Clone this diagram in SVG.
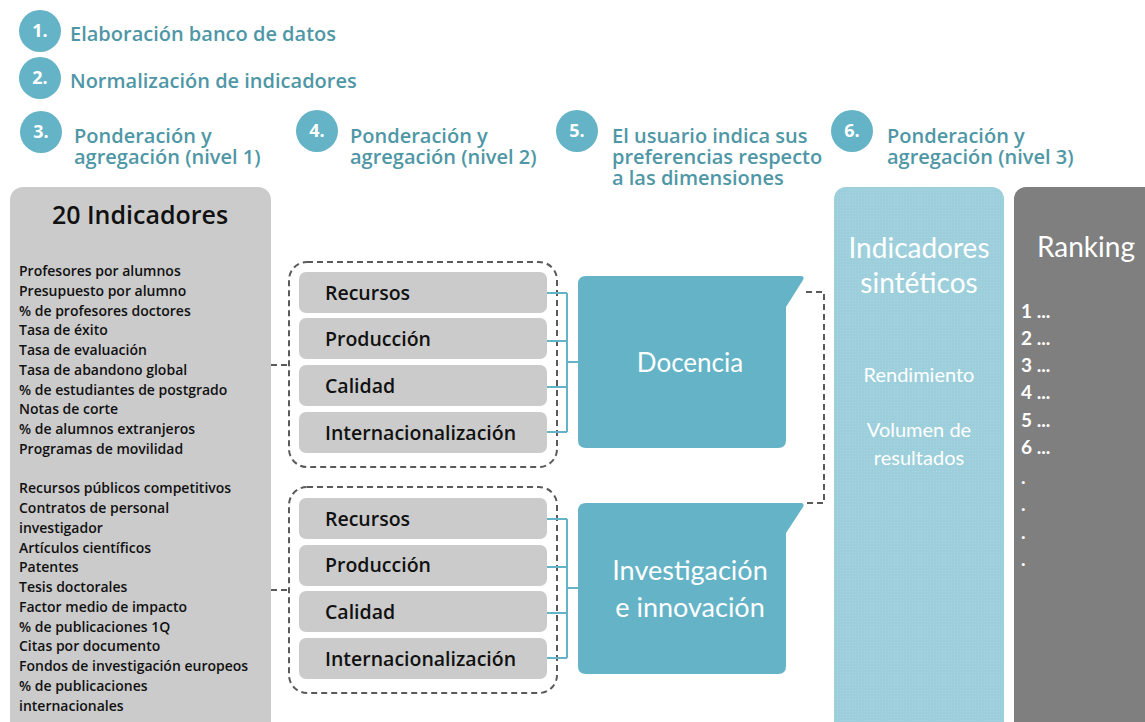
<svg xmlns="http://www.w3.org/2000/svg" width="1145" height="722" viewBox="0 0 1145 722">
<style>
.step{fill:#64b3c6}
.num{font-family:"Open Sans",Lato,sans-serif;font-weight:bold;font-size:18px;fill:#fff;text-anchor:middle}
.st{font-family:"Open Sans",Lato,sans-serif;font-weight:600;font-size:20px;fill:#4f97a6}
.list{font-family:"Open Sans",Lato,sans-serif;font-weight:600;font-size:14px;fill:#111}
.box{fill:#cbcbcb}
.boxt{font-family:"Open Sans",Lato,sans-serif;font-weight:600;font-size:19.5px;fill:#111}
.dash{fill:none;stroke:#5a5a5a;stroke-width:2;stroke-dasharray:6 4}
.teal{fill:none;stroke:#64b3c6;stroke-width:2}
.dim{fill:#64b3c6}
.wt{font-family:Lato,"Open Sans",sans-serif;fill:#fff;text-anchor:middle}
</style>
<defs>
<pattern id="tex" width="3" height="3" patternUnits="userSpaceOnUse">
<rect width="3" height="3" fill="#9ccfdb"/>
<rect width="1" height="1" fill="#a9d6e0"/>
</pattern>
</defs>
<rect width="1145" height="722" fill="#fff"/>

<g id="step1"><circle class="step" cx="40" cy="31" r="21"/><text class="num" x="40" y="37">1.</text><text class="st" x="70" y="41">Elaboración banco de datos</text></g>
<g id="step2"><circle class="step" cx="40" cy="78" r="21"/><text class="num" x="40" y="84">2.</text><text class="st" x="70" y="88">Normalización de indicadores</text></g>
<g id="step3"><circle class="step" cx="41" cy="132" r="21"/><text class="num" x="41" y="138">3.</text><text class="st" x="74" y="143">Ponderación y<tspan x="74" dy="21">agregación (nivel 1)</tspan></text></g>
<g id="step4"><circle class="step" cx="317" cy="131" r="21"/><text class="num" x="317" y="137">4.</text><text class="st" x="350" y="143">Ponderación y<tspan x="350" dy="21">agregación (nivel 2)</tspan></text></g>
<g id="step5"><circle class="step" cx="577" cy="131" r="21"/><text class="num" x="577" y="137">5.</text><text class="st" x="612" y="143">El usuario indica sus<tspan x="612" dy="21">preferencias respecto</tspan><tspan x="612" dy="21">a las dimensiones</tspan></text></g>
<g id="step6"><circle class="step" cx="852" cy="131" r="21"/><text class="num" x="852" y="137">6.</text><text class="st" x="887" y="143">Ponderación y<tspan x="887" dy="21">agregación (nivel 3)</tspan></text></g>

<g id="indicadores">
<rect x="10" y="187" width="261" height="550" rx="13" fill="#cbcbcb"/>
<text x="140" y="224" font-family="'Open Sans',Lato,sans-serif" font-weight="600" font-size="25" fill="#111" text-anchor="middle">20 Indicadores</text>
<text class="list" x="19" y="276">Profesores por alumnos</text>
<text class="list" x="19" y="296">Presupuesto por alumno</text>
<text class="list" x="19" y="316">% de profesores doctores</text>
<text class="list" x="19" y="335">Tasa de éxito</text>
<text class="list" x="19" y="355">Tasa de evaluación</text>
<text class="list" x="19" y="375">Tasa de abandono global</text>
<text class="list" x="19" y="395">% de estudiantes de postgrado</text>
<text class="list" x="19" y="414">Notas de corte</text>
<text class="list" x="19" y="434">% de alumnos extranjeros</text>
<text class="list" x="19" y="454">Programas de movilidad</text>
<text class="list" x="19" y="493">Recursos públicos competitivos</text>
<text class="list" x="19" y="513">Contratos de personal</text>
<text class="list" x="19" y="533">investigador</text>
<text class="list" x="19" y="553">Artículos científicos</text>
<text class="list" x="19" y="572">Patentes</text>
<text class="list" x="19" y="592">Tesis doctorales</text>
<text class="list" x="19" y="612">Factor medio de impacto</text>
<text class="list" x="19" y="632">% de publicaciones 1Q</text>
<text class="list" x="19" y="651">Citas por documento</text>
<text class="list" x="19" y="671">Fondos de investigación europeos</text>
<text class="list" x="19" y="691">% de publicaciones</text>
<text class="list" x="19" y="711">internacionales</text>
</g>

<g id="grupo1">
<rect class="dash" x="289" y="262" width="268" height="205" rx="18"/>
<rect class="box" x="299" y="272" width="248" height="41" rx="7"/><text class="boxt" x="325" y="300">Recursos</text>
<rect class="box" x="299" y="318" width="248" height="41" rx="7"/><text class="boxt" x="325" y="346">Producción</text>
<rect class="box" x="299" y="365" width="248" height="41" rx="7"/><text class="boxt" x="325" y="393">Calidad</text>
<rect class="box" x="299" y="412" width="248" height="41" rx="7"/><text class="boxt" x="325" y="440">Internacionalización</text>
</g>
<g id="grupo2">
<rect class="dash" x="289" y="487" width="268" height="206" rx="18"/>
<rect class="box" x="299" y="498" width="248" height="41" rx="7"/><text class="boxt" x="325" y="526">Recursos</text>
<rect class="box" x="299" y="545" width="248" height="41" rx="7"/><text class="boxt" x="325" y="572">Producción</text>
<rect class="box" x="299" y="591" width="248" height="41" rx="7"/><text class="boxt" x="325" y="619">Calidad</text>
<rect class="box" x="299" y="638" width="248" height="41" rx="7"/><text class="boxt" x="325" y="666">Internacionalización</text>
</g>

<g id="docencia">
<path class="dim" d="M586,276 H801 Q805,276 803,280 L786,307 V440 Q786,448 778,448 H586 Q578,448 578,440 V284 Q578,276 586,276 Z"/>
<text class="wt" x="690" y="372" font-size="26">Docencia</text>
</g>
<g id="investigacion">
<path class="dim" d="M586,503 H801 Q805,503 803,507 L786,533 V666 Q786,674 778,674 H586 Q578,674 578,666 V511 Q578,503 586,503 Z"/>
<text class="wt" x="690" y="580" font-size="27">Investigación<tspan x="690" dy="37">e innovación</tspan></text>
</g>

<g id="sinteticos">
<rect x="834" y="187" width="170" height="560" rx="12" fill="url(#tex)"/>
<text class="wt" x="919" y="258" font-size="28">Indicadores<tspan x="919" dy="35">sintéticos</tspan></text>
<text class="wt" x="919" y="382" font-size="20">Rendimiento</text>
<text class="wt" x="919" y="437" font-size="20">Volumen de<tspan x="919" dy="28">resultados</tspan></text>
</g>
<g id="ranking">
<rect x="1014" y="187" width="150" height="560" rx="12" fill="#7f7f7f"/>
<text class="wt" x="1086" y="257" font-size="28">Ranking</text>
<g font-family="Lato,'Open Sans',sans-serif" font-weight="bold" font-size="19" fill="#fff">
<text x="1021" y="318">1 ...</text>
<text x="1021" y="345">2 ...</text>
<text x="1021" y="372">3 ...</text>
<text x="1021" y="399">4 ...</text>
<text x="1021" y="427">5 ...</text>
<text x="1021" y="454">6 ...</text>
<text x="1021" y="484">.</text>
<text x="1021" y="511">.</text>
<text x="1021" y="539">.</text>
<text x="1021" y="566">.</text>
</g>
</g>

<g id="connectors">
<path class="dash" d="M271,365 H289"/>
<path class="dash" d="M271,590 H289"/>
<path class="teal" d="M547,293 H567 M547,341 H567 M547,387 H567 M547,432 H567 M567,293 V432 M567,362 H578"/>
<path class="teal" d="M547,519 H567 M547,567 H567 M547,613 H567 M547,658 H567 M567,519 V658 M567,588 H578"/>
<path class="dash" d="M806,292 H824 V503 H804"/>
</g>
</svg>
